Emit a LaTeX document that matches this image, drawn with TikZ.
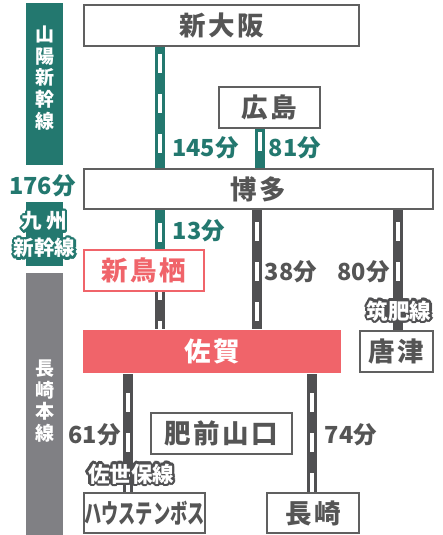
\documentclass[tikz,border=0pt]{standalone}
\usepackage{fontspec}
\setmainfont{Noto Sans CJK JP}
\usepackage{contour}
\contourlength{2.3pt}

\definecolor{sanyo}{HTML}{23786F}
\definecolor{saga}{HTML}{F0646A}
\definecolor{rail}{HTML}{505052}
\definecolor{honsen}{HTML}{808084}
\definecolor{frame}{HTML}{606060}
\definecolor{ink}{HTML}{555555}

\newcommand{\gap}{\hspace{0.1em}}
\tikzset{phase/.store in=\railphase, phase=28pt}

\begin{document}
\begin{tikzpicture}[x=1pt,y=-1pt,
    station/.style={draw=frame,line width=2pt,fill=white,text=ink,inner sep=0pt,
      minimum height=41pt,font=\fontsize{26.5}{26.5}\selectfont\bfseries},
    railway/.style={line width=10pt,draw=#1,
      postaction={draw=white,line width=4pt,dash pattern=on 19pt off 21pt,dash phase=\railphase}},
    time/.style={text=#1,inner sep=0pt,font=\fontsize{23.5}{23.5}\selectfont\bfseries},
    lineband/.style={fill=#1,inner sep=0pt,minimum width=37pt},
    linename/.style={text=white,inner sep=0pt,align=center,font=\fontsize{19}{21.7}\selectfont\bfseries},
    branchname/.style={text=white,inner sep=0pt,align=center,font=\fontsize{21.5}{27}\selectfont\bfseries}]
  \useasboundingbox (0,0) rectangle (443,535);

  % line bands on the left
  \node[lineband=sanyo,minimum height=162pt] (sanyoband) at (44.5,84) {};
  \node[linename] (sanyoname) at (44.5,78) {山\\陽\\新\\幹\\線};
  \node[lineband=sanyo,minimum height=64pt] (kyushuband) at (44.5,234) {};
  \node[lineband=honsen,minimum height=264pt] (nagasakiband) at (44.5,405) {};
  \node[linename] (nagasakiname) at (44.5,401) {長\\崎\\本\\線};
  \node[branchname,font=\fontsize{20.5}{27}\selectfont\bfseries] (kyushuname) at (44.5,236)
    {\contour{sanyo}{九\hspace{0.2em}州}\\\contour{sanyo}{新幹線}};
  \node[time=sanyo] (sanyotime) at (42.5,186) {176分};

  % stations
  \node[station,minimum width=275pt] (shinosaka) at (221.5,25.5) {新\gap 大\gap 阪};
  \node[station,minimum width=101pt] (hiroshima) at (269.5,107.5) {広\gap 島};
  \node[station,minimum width=349pt,minimum height=40pt] (hakata) at (258.5,189) {博\gap 多};
  \node[station,draw=saga,text=saga,minimum width=120pt] (shintosu) at (144,270.5) {新\gap 鳥\gap 栖};
  \node[station,draw=none,fill=saga,text=white,minimum width=258pt,minimum height=43pt] (saga) at (212,351.5) {佐\gap 賀};
  \node[station,minimum width=73pt] (karatsu) at (396.5,351.5) {唐\gap 津};
  \node[station,minimum width=141pt] (hizen) at (221.5,433.5) {肥\gap 前\gap 山\gap 口};
  \node[station,minimum width=121pt,minimum height=40pt] (huis) at (144.5,513) {\scalebox{0.65}[1]{ハウステンボス}};
  \node[station,minimum width=92pt,minimum height=40pt] (nagasaki) at (313,513) {長\gap 崎};

  % where the tracks run
  \coordinate (xa) at (159.5,0);
  \coordinate (xb) at (259.5,0);
  \coordinate (xc) at (257,0);
  \coordinate (xd) at (398,0);
  \coordinate (xe) at (127.5,0);
  \coordinate (xf) at (311.5,0);

  \draw[railway=sanyo,phase=33pt] (shinosaka.south -| xa) -- (hakata.north -| xa);
  \draw[railway=sanyo,phase=37pt] (hiroshima.south -| xb) -- (hakata.north -| xb);
  \draw[railway=sanyo,phase=27pt] (hakata.south -| xa) -- (shintosu.north -| xa);
  \draw[railway=rail,phase=11pt] (shintosu.south -| xa) -- (saga.north -| xa);
  \draw[railway=rail] (hakata.south -| xc) -- (saga.north -| xc);
  \draw[railway=rail] (hakata.south -| xd) -- (karatsu.north -| xd);
  \draw[railway=rail,phase=21pt] (saga.south -| xe) -- (huis.north -| xe);
  \draw[railway=rail,phase=21pt] (saga.south -| xf) -- (nagasaki.north -| xf);

  % times
  \node[time=sanyo] (t145) at (205.5,147.5) {145分};
  \node[time=sanyo] (t81) at (295,147.5) {81分};
  \node[time=sanyo] (t13) at (199,231) {13分};
  \node[time=ink] (t38) at (291,271.5) {38分};
  \node[time=ink] (t80) at (363.5,271.5) {80分};
  \node[time=ink] (t61) at (94.5,435) {61分};
  \node[time=ink] (t74) at (351,435) {74分};

  % branch line names
  \node[branchname] (chikuhi) at (399,312) {\contour{rail}{筑肥線}};
  \node[branchname] (sasebo) at (131,475) {\contour{rail}{佐世保線}};
\end{tikzpicture}
\end{document}
